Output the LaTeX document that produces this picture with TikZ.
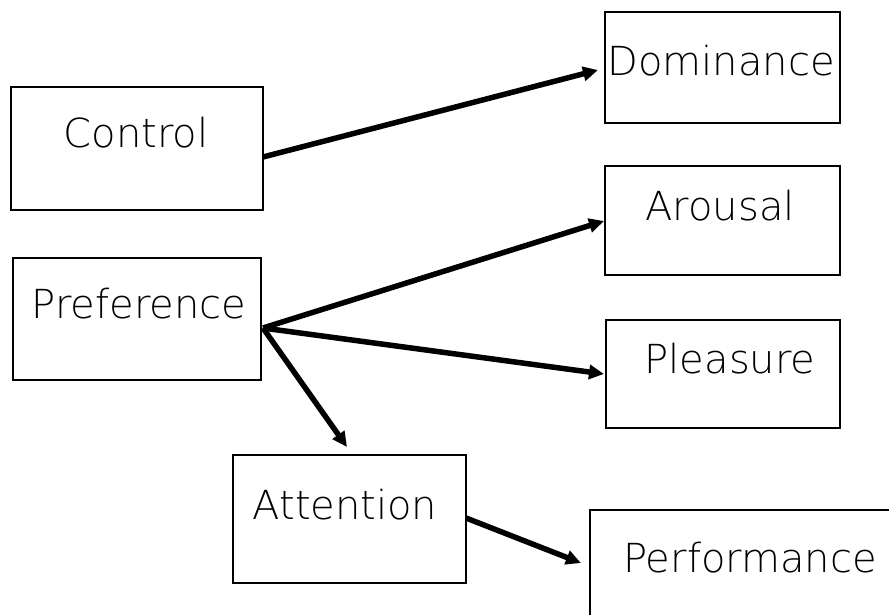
\documentclass[tikz,border=0pt]{standalone}
\usepackage{fontspec}
\setmainfont{DejaVuSans-ExtraLight}[Extension=.ttf]
\usetikzlibrary{arrows.meta}
\begin{document}
\begin{tikzpicture}[x=1pt,y=-1pt,
  box/.style={draw=black,line width=1.3pt,inner sep=0pt,outer sep=0pt},
  lbl/.style={anchor=base,inner sep=0pt,font=\fontsize{40}{42}\selectfont},
  conn/.style={line width=5.5pt,-{Triangle[length=15pt,width=14pt]}}]
\useasboundingbox (0,0) rectangle (889,615);
\clip (0,0) rectangle (889,615);
% boxes
\node[box,minimum width=252pt,minimum height=123pt] (ctrl) at (137,148.5) {};
\node[box,minimum width=248pt,minimum height=122pt] (pref) at (137,319) {};
\node[box,minimum width=235pt,minimum height=111pt] (dom) at (722.5,67.5) {};
\node[box,minimum width=235pt,minimum height=109pt] (aro) at (722.5,220.5) {};
\node[box,minimum width=234pt,minimum height=108pt] (plea) at (723,374) {};
\node[box,minimum width=233pt,minimum height=128pt] (att) at (349.5,519) {};
\node[box,minimum width=320pt,minimum height=140pt] (perf) at (750,580) {};
% labels
\node[lbl] (tctrl) at (136,148) {Control};
\node[lbl] (tpref) at (139,318) {Preference};
\node[lbl] (tdom) at (721,76) {Dominance};
\node[lbl] (taro) at (720,220) {Arousal};
\node[lbl] (tplea) at (730,373) {Pleasure};
\node[lbl] (tatt) at (345,519) {Attention};
\node[lbl] (tperf) at (750,572) {Performance};
% connector points
\coordinate (c1) at (263,157);
\coordinate (p1) at (263,328);
\coordinate (a1) at (466,518);
\coordinate (dIn) at (598,70);
\coordinate (aIn) at (604,221);
\coordinate (plIn) at (604,374);
\coordinate (atIn) at (347,447);
\coordinate (pfIn) at (581,563);
\draw[conn] (c1) -- (dIn);
\draw[conn] (p1) -- (aIn);
\draw[conn] (p1) -- (plIn);
\draw[conn] (p1) -- (atIn);
\draw[conn] (a1) -- (pfIn);
\end{tikzpicture}
\end{document}
